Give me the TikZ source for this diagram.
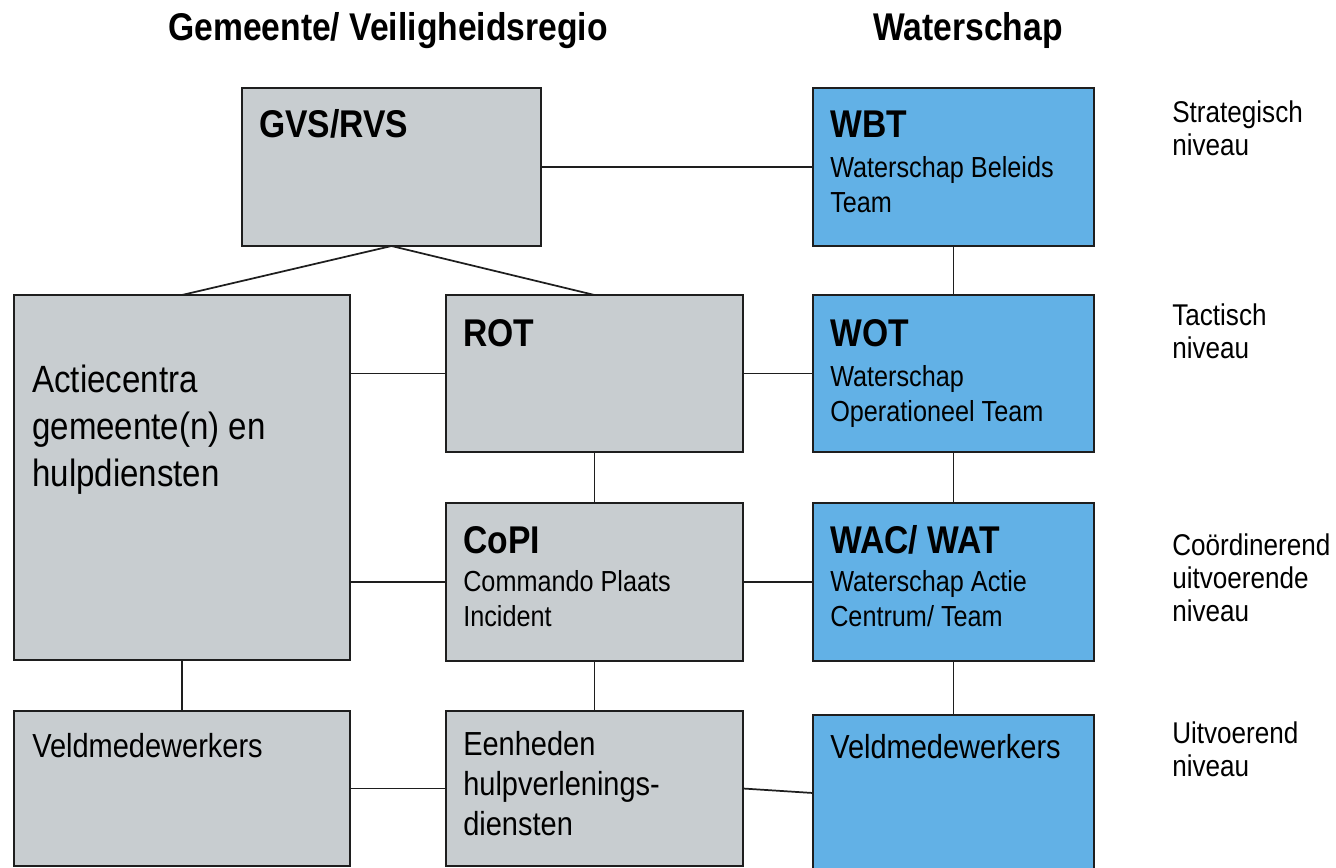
\documentclass[tikz,border=0pt]{standalone}
\usepackage{fontspec}
\setmainfont{Liberation Sans}[FakeStretch=0.87]
\usetikzlibrary{fit}

\definecolor{boxgray}{RGB}{200,205,208}
\definecolor{boxblue}{RGB}{98,177,230}
\definecolor{edgeblack}{RGB}{30,30,30}

\begin{document}
\begin{tikzpicture}[x=0.75pt,y=0.75pt,yscale=-1,xscale=1,
    graybox/.style={draw=edgeblack,line width=1.6pt,fill=boxgray,inner sep=0pt,outer sep=0pt},
    bluebox/.style={draw=edgeblack,line width=1.6pt,fill=boxblue,inner sep=0pt,outer sep=0pt},
    link/.style={draw=edgeblack,line width=1.3pt},
    headtext/.style={anchor=base,inner sep=0pt,font=\fontsize{29}{34}\selectfont\bfseries},
    titletext/.style={anchor=base west,inner sep=0pt,font=\fontsize{29}{35}\selectfont\bfseries},
    subtext/.style={anchor=base west,inner sep=0pt,align=left,font=\fontsize{21.75}{26.25}\selectfont},
    bigtext/.style={anchor=base west,inner sep=0pt,align=left,font=\fontsize{28.5}{35.25}\selectfont},
    midtext/.style={anchor=base west,inner sep=0pt,align=left,font=\fontsize{25}{30}\selectfont},
    leveltext/.style={anchor=base west,inner sep=0pt,align=left,font=\fontsize{22.5}{24.75}\selectfont}]
    %set diagram to 1336 x 868
    \clip (0,0) rectangle (1336,868);
    \fill[white] (0,0) rectangle (1336,868);

    % Headers
    \node[headtext] (hgem) at (388,40) {Gemeente/ Veiligheidsregio};
    \node[headtext] (hwat) at (968,40) {Waterschap};

    %Shape: Rectangle [gray column]
    \node[graybox,fit={(242,88) (541,246)}] (gvs) {};
    \node[graybox,fit={(14,295) (350,660)}] (acc) {};
    \node[graybox,fit={(446,295) (743,452)}] (rot) {};
    \node[graybox,fit={(446,503) (743,661)}] (copi) {};
    \node[graybox,fit={(14,711) (350,866)}] (veldg) {};
    \node[graybox,fit={(446,711) (743,866)}] (eenh) {};
    %Shape: Rectangle [blue column]
    \node[bluebox,fit={(813,88) (1094,246)}] (wbt) {};
    \node[bluebox,fit={(813,295) (1094,452)}] (wot) {};
    \node[bluebox,fit={(813,503) (1094,661)}] (wac) {};
    \node[bluebox,fit={(813,715) (1094,871)}] (veldw) {};

    %Straight Lines
    \draw[link] (gvs.south) -- (acc.north);
    \draw[link] (gvs.south) -- (rot.north);
    \draw[link] (gvs.east) -- (wbt.west);
    \draw[link] (wbt.south) -- (wot.north);
    \draw[link] (rot.west -| acc.east) -- (rot.west);
    \draw[link] (rot.east) -- (wot.west);
    \draw[link] (rot.south) -- (copi.north);
    \draw[link] (wot.south) -- (wac.north);
    \draw[link] (copi.west -| acc.east) -- (copi.west);
    \draw[link] (copi.east) -- (wac.west);
    \draw[link] (acc.south) -- (veldg.north);
    \draw[link] (copi.south) -- (eenh.north);
    \draw[link] (wac.south) -- (veldw.north);
    \draw[link] (veldg.east) -- (eenh.west);
    \draw[link] (eenh.east) -- (veldw.west);

    % Text Node (multi-line nodes sit on the baseline of their last line)
    \node[titletext] (tgvs) at (259,137) {GVS/RVS};
    \node[titletext] (twbt) at (830,137) {WBT};
    \node[subtext] (swbt) at (830,212) {Waterschap Beleids\\Team};
    \node[titletext] (trot) at (463,346) {ROT};
    \node[titletext] (twot) at (830,346) {WOT};
    \node[subtext] (swot) at (830,421) {Waterschap\\Operationeel Team};
    \node[titletext] (tcopi) at (463,553) {CoPI};
    \node[subtext] (scopi) at (463,626) {Commando Plaats\\Incident};
    \node[titletext] (twac) at (830,553) {WAC/ WAT};
    \node[subtext] (swac) at (830,626) {Waterschap Actie\\Centrum/ Team};
    \node[bigtext] (tacc) at (32,486) {Actiecentra\\gemeente(n) en\\hulpdiensten};
    \node[midtext] (tveldg) at (32,757) {Veldmedewerkers};
    \node[midtext] (teenh) at (463,835) {Eenheden\\hulpverlenings-\\diensten};
    \node[midtext] (tveldw) at (830,758) {Veldmedewerkers};

    % Level labels
    \node[leveltext] (lstrat) at (1172,155) {Strategisch\\niveau};
    \node[leveltext] (ltact) at (1172,358) {Tactisch\\niveau};
    \node[leveltext] (lcoord) at (1172,621) {Coördinerend\\uitvoerende\\niveau};
    \node[leveltext] (luitv) at (1172,776) {Uitvoerend\\niveau};
\end{tikzpicture}
\end{document}
